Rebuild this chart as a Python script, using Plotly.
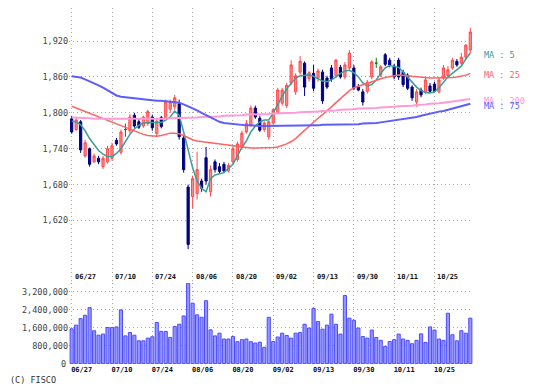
import plotly.graph_objects as go

dates = ["06/27","06/28",
 "07/01","07/02","07/03","07/04","07/05","07/08","07/09","07/10","07/11","07/12",
 "07/16","07/17","07/18","07/19","07/22","07/23","07/24","07/25","07/26","07/29","07/30","07/31",
 "08/01","08/02","08/05","08/06","08/07","08/08","08/09","08/13","08/14","08/15","08/16",
 "08/19","08/20","08/21","08/22","08/23","08/26","08/27","08/28","08/29","08/30",
 "09/02","09/03","09/04","09/05","09/06","09/09","09/10","09/11","09/12","09/13",
 "09/17","09/18","09/19","09/20","09/24","09/25","09/26","09/27","09/30",
 "10/01","10/02","10/03","10/04","10/07","10/08","10/09","10/10","10/11",
 "10/15","10/16","10/17","10/18","10/21","10/22","10/23","10/24","10/25",
 "10/28","10/29","10/30","10/31","11/01","11/05","11/06","11/07"]

opens = [1790,1772,1785,1728,1740,1718,1724,1710,1718,1724,
 1754,1734,1772,1770,1796,1785,1778,1782,1793,1765,
 1792,1792,1806,1810,1815,1758,1676,1660,1665,1686,
 1725,1668,1718,1710,1714,1703,1718,1722,1742,1768,
 1780,1808,1791,1772,1760,1783,1800,1816,1812,1850,
 1835,1868,1883,1857,1866,1858,1868,1858,1875,1862,
 1876,1860,1875,1875,1843,1835,1836,1860,1883,1863,
 1897,1888,1878,1888,1868,1863,1843,1818,1838,1835,
 1845,1848,1835,1858,1862,1875,1886,1883,1893,1905]
highs = [1795,1793,1788,1755,1742,1732,1728,1728,1745,1750,
 1758,1772,1782,1798,1800,1790,1795,1805,1797,1790,
 1795,1822,1822,1830,1822,1762,1680,1695,1735,1690,
 1743,1712,1722,1716,1718,1716,1746,1752,1770,1788,
 1812,1812,1795,1786,1786,1808,1842,1842,1850,1888,
 1866,1895,1886,1870,1880,1874,1872,1862,1880,1890,
 1880,1885,1905,1880,1848,1840,1855,1888,1892,1880,
 1900,1892,1882,1892,1872,1866,1846,1840,1842,1860,
 1850,1852,1860,1880,1878,1892,1890,1900,1915,1942]
lows = [1765,1770,1733,1725,1710,1716,1714,1706,1715,1720,
 1745,1730,1760,1765,1775,1773,1775,1778,1770,1760,
 1774,1790,1800,1805,1755,1700,1572,1640,1655,1668,
 1680,1660,1700,1698,1700,1700,1714,1718,1738,1765,
 1776,1790,1768,1768,1755,1780,1798,1812,1808,1846,
 1830,1864,1828,1852,1836,1852,1815,1840,1852,1858,
 1857,1856,1870,1838,1836,1812,1832,1856,1875,1860,
 1878,1876,1856,1855,1843,1838,1820,1810,1826,1832,
 1833,1834,1832,1855,1858,1872,1877,1880,1890,1900]
closes = [1768,1788,1738,1750,1714,1728,1718,1724,1740,1745,
 1748,1768,1772,1793,1778,1776,1793,1802,1775,1786,
 1777,1818,1818,1825,1760,1705,1580,1690,1705,1674,
 1686,1705,1705,1702,1703,1712,1740,1748,1766,1782,
 1808,1793,1771,1783,1785,1805,1838,1838,1846,1880,
 1862,1886,1843,1867,1841,1870,1820,1843,1856,1888,
 1860,1880,1900,1841,1838,1818,1851,1885,1883,1877,
 1881,1880,1860,1860,1847,1841,1825,1835,1830,1855,
 1836,1836,1855,1875,1872,1888,1880,1893,1913,1935]
volumes = [1556000,1720000,2010000,2160000,2500000,1470000,1270000,1320000,1610000,1610000,
 1640000,2400000,1240000,1390000,1270000,1020000,1020000,1140000,1200000,1840000,
 1440000,1440000,1170000,1660000,1760000,2130000,3590000,2700000,2180000,2070000,
 2810000,1510000,1240000,1360000,1100000,1100000,1210000,980000,1070000,1100000,
 980000,920000,960000,730000,2070000,990000,1190000,1360000,1260000,1140000,
 1360000,1390000,1760000,1590000,2470000,1880000,1540000,1720000,2210000,1760000,
 1320000,3040000,2030000,1940000,1590000,1210000,1140000,1500000,1170000,1040000,
 770000,990000,1070000,1320000,1100000,1040000,890000,1040000,1330000,950000,
 1640000,1500000,1100000,1040000,2250000,1290000,1020000,1470000,1360000,2030000]

ma5 = [1786,1785,1780,1770,1757,1746,1737,1731,1727,1727,
 1732,1740,1752,1764,1773,1779,1783,1784,1784,1784,
 1784,1788,1793,1803,1796,1768,1737,1708,1686,1674,
 1668,1690,1696,1698,1700,1707,1714,1728,1742,1753,
 1768,1778,1785,1788,1788,1800,1815,1828,1840,1850,
 1858,1862,1863,1863,1861,1857,1853,1852,1855,1860,
 1866,1870,1871,1867,1860,1850,1845,1847,1855,1866,
 1875,1879,1878,1876,1868,1860,1851,1843,1837,1834,
 1833,1835,1842,1851,1860,1866,1872,1878,1890,1900]
ma25 = [1811,1808,1805,1802,1799,1796,1793,1790,1787,1784,
 1781,1778,1775,1772,1769,1766,1764,1762,1761,1761,
 1762,1764,1766,1766,1765,1762,1758,1755,1753,1752,
 1751,1750,1749,1748,1747,1745,1744,1743,1742,1742,
 1741,1741,1741,1741,1741,1742,1743,1745,1748,1752,
 1757,1764,1771,1778,1785,1791,1797,1803,1810,1817,
 1824,1831,1837,1842,1845,1847,1849,1852,1855,1857,
 1859,1861,1862,1863,1863,1862,1861,1860,1859,1858,
 1858,1858,1858,1858,1859,1859,1860,1861,1863,1866]
ma75 = [1861,1860,1859,1856,1853,1850,1846,1842,1838,1833,
 1829,1827,1826,1825,1824,1823,1822,1822,1821,1820,
 1820,1819,1819,1818,1817,1814,1811,1808,1804,1800,
 1796,1792,1788,1785,1783,1782,1781,1780,1780,1779,
 1779,1778,1778,1778,1778,1778,1778,1778,1778,1778,
 1778,1778,1778,1779,1779,1779,1780,1780,1780,1780,
 1781,1781,1781,1781,1781,1782,1782,1782,1783,1784,
 1785,1786,1787,1789,1790,1791,1792,1793,1795,1797,
 1799,1800,1802,1803,1805,1807,1809,1811,1813,1815]
ma200 = [1792,1792,1791,1791,1791,1790,1790,1790,1789,1789,
 1789,1789,1789,1789,1789,1789,1790,1790,1790,1790,
 1790,1790,1791,1791,1791,1791,1792,1792,1792,1793,
 1793,1793,1794,1794,1795,1795,1796,1796,1796,1797,
 1797,1797,1798,1798,1798,1799,1799,1799,1800,1800,
 1800,1801,1801,1801,1802,1802,1803,1803,1804,1804,
 1805,1805,1806,1806,1807,1807,1808,1808,1808,1809,
 1809,1810,1810,1811,1811,1812,1812,1813,1813,1814,
 1815,1815,1816,1817,1818,1819,1820,1821,1822,1823]

tick_labels = ["06/27","07/10","07/24","08/06","08/20","09/02","09/13","09/30","10/11","10/25"]
price_ticks = [1620, 1680, 1740, 1800, 1860, 1920]
volume_ticks = [0, 800000, 1600000, 2400000, 3200000]
volume_text = ["0", "800,000", "1,600,000", "2,400,000", "3,200,000"]

ma_series = [("MA : 5", ma5, "#3a9e99", 1.5),
             ("MA : 25", ma25, "#ff6464", 1.5),
             ("MA : 200", ma200, "#ff9ad8", 2),
             ("MA : 75", ma75, "#5c5cff", 2)]

FONT = "DejaVu Sans Mono"
GRID = "#aaaaaa"
FS = 8.5

fig = go.Figure()

for name, vals, col, w in ma_series:
    fig.add_trace(go.Scatter(x=dates, y=vals, mode="lines", name=name,
                             line=dict(color=col, width=w), xaxis="x", yaxis="y",
                             showlegend=False))

idx_n = [i for i in range(len(dates)) if opens[i] != closes[i]]
idx_d = [i for i in range(len(dates)) if opens[i] == closes[i]]

fig.add_trace(go.Candlestick(
    x=[dates[i] for i in idx_n], open=[opens[i] for i in idx_n], high=[highs[i] for i in idx_n],
    low=[lows[i] for i in idx_n], close=[closes[i] for i in idx_n],
    increasing=dict(line=dict(color="#ff4a4a", width=1), fillcolor="#ff8a8a"),
    decreasing=dict(line=dict(color="#000080", width=1), fillcolor="#000080"),
    whiskerwidth=0, xaxis="x", yaxis="y", showlegend=False))
fig.add_trace(go.Candlestick(
    x=[dates[i] for i in idx_d], open=[opens[i] for i in idx_d], high=[highs[i] for i in idx_d],
    low=[lows[i] for i in idx_d], close=[closes[i] for i in idx_d],
    increasing=dict(line=dict(color="#008000", width=1), fillcolor="#008000"),
    decreasing=dict(line=dict(color="#008000", width=1), fillcolor="#008000"),
    whiskerwidth=0, xaxis="x", yaxis="y", showlegend=False))

fig.add_trace(go.Bar(x=dates, y=volumes, xaxis="x2", yaxis="y2",
                     marker=dict(color="#9696ff", line=dict(color="#4b4bff", width=1)),
                     showlegend=False))

# page has an 8px body margin, so the figure is sized to fit the 533x391 window
vol_h = 0.2275
common_x = dict(type="category", range=[-0.6, 89.6], tickvals=tick_labels, ticktext=tick_labels,
                showgrid=True, gridcolor=GRID, griddash="1px,3px", gridwidth=1,
                showline=False, zeroline=False, ticks="", automargin=False)

fig.update_layout(
    width=525, height=383,
    margin=dict(l=61, r=60, t=0, b=27, pad=0, autoexpand=False),
    paper_bgcolor="white", plot_bgcolor="white",
    showlegend=False, bargap=0.3,
    font=dict(family=FONT, size=FS, color="#444444"),
    xaxis=dict(**common_x, domain=[0, 1], anchor="y", showticklabels=False,
               rangeslider=dict(visible=False)),
    xaxis2=dict(**common_x, domain=[0, 1], anchor="y2", matches="x", showticklabels=True,
                tickfont=dict(family=FONT, size=7, color="#111111", weight="bold"),
                ticklabelshift=10, ticklabelstandoff=0),
    yaxis=dict(domain=[vol_h, 1], range=[1515.5, 1975.2], tickvals=price_ticks,
               tickformat=",", showgrid=True, gridcolor=GRID, griddash="1px,3px",
               zeroline=False, showline=False, ticks="", automargin=False,
               tickfont=dict(family=FONT, size=FS, color="#444444")),
    yaxis2=dict(domain=[0, vol_h], range=[-15000, 3600000], tickmode="array",
                tickvals=volume_ticks, ticktext=[""] + volume_text[1:],
                showgrid=True, gridcolor=GRID, griddash="1px,3px",
                zeroline=False, showline=False, ticks="", automargin=False,
                tickfont=dict(family=FONT, size=FS, color="#444444")),
)

annotations = []
for lab in tick_labels:
    annotations.append(dict(x=lab, y=0.2444, xref="x", yref="paper", text=lab,
                            showarrow=False, xanchor="left", yanchor="middle", xshift=1,
                            font=dict(family=FONT, size=7, color="#111111", weight="bold")))
for name, vals, col, w in ma_series:
    annotations.append(dict(x=1.022, y=vals[-1], xref="paper", yref="y", text=name,
                            showarrow=False, xanchor="left", yanchor="middle", yshift=-2,
                            font=dict(family=FONT, size=FS, color=col)))
# baseline label of the volume axis
annotations.append(dict(x=0, y=volume_ticks[0], xref="paper", yref="y2", text=volume_text[0],
                        showarrow=False, xanchor="right", yanchor="middle", xshift=-1,
                        font=dict(family=FONT, size=FS, color="#444444")))
annotations.append(dict(x=-0.151, y=-0.045, xref="paper", yref="paper", text="(C) FISCO",
                        showarrow=False, xanchor="left", yanchor="middle",
                        font=dict(family=FONT, size=FS, color="#333333")))
fig.update_layout(annotations=annotations)

fig.write_html("out.html")
